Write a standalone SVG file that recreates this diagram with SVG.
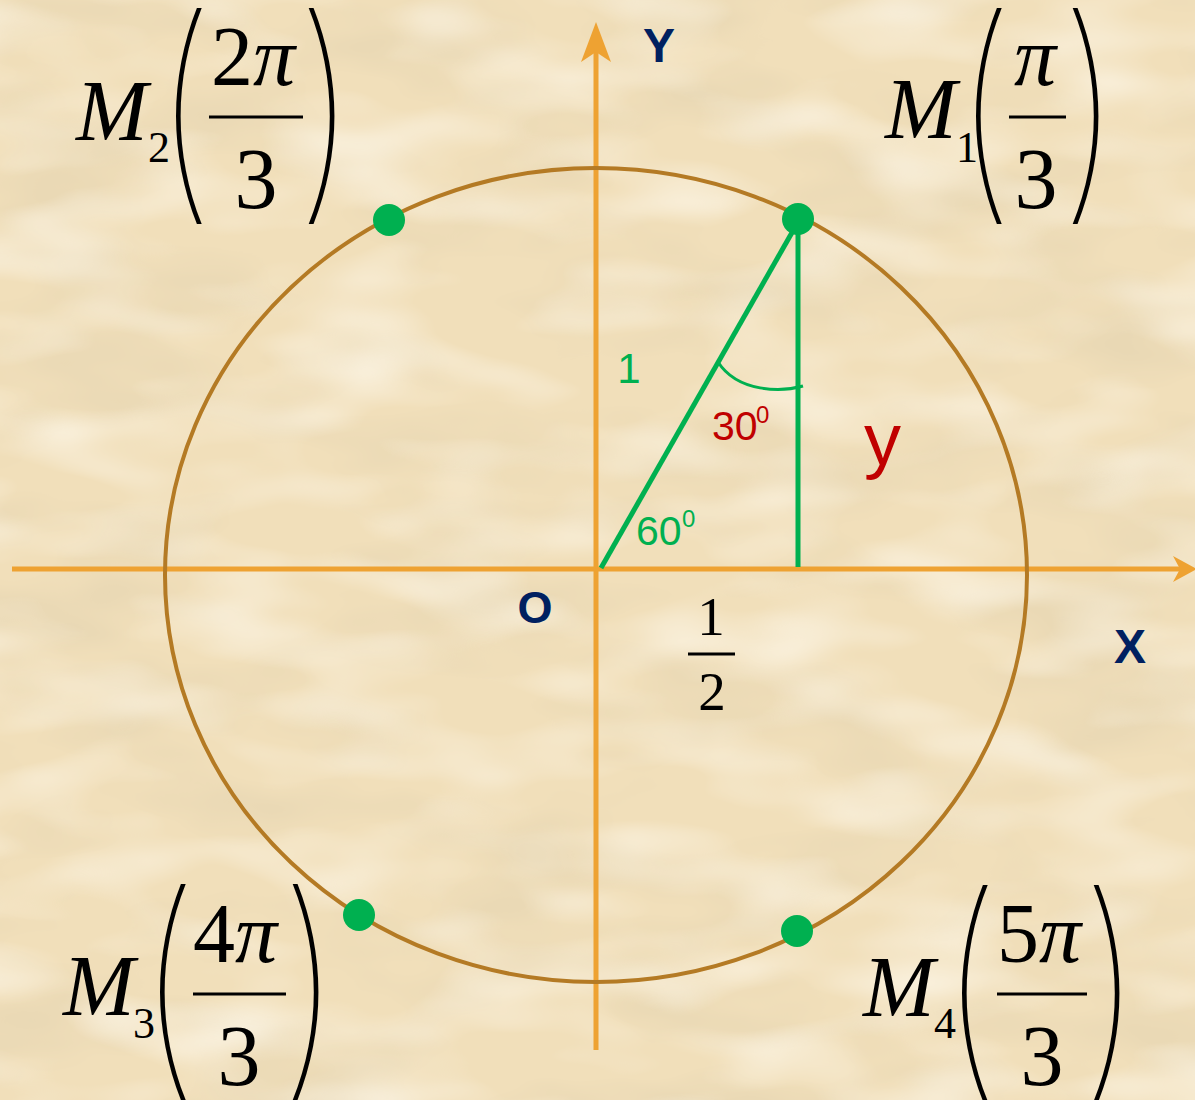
<svg xmlns="http://www.w3.org/2000/svg" width="1195" height="1100" viewBox="0 0 1195 1100">
<defs>
<filter id="paper" filterUnits="userSpaceOnUse" x="0" y="0" width="1195" height="1100">
<feTurbulence type="fractalNoise" baseFrequency="0.005 0.012" numOctaves="3" seed="7"/>
<feColorMatrix type="matrix" values="0 0 0 0 0.78  0 0 0 0 0.66  0 0 0 0 0.44  1.8 0 0 0 -0.80"/>
</filter>
<filter id="paper2" filterUnits="userSpaceOnUse" x="0" y="0" width="1195" height="1100">
<feTurbulence type="fractalNoise" baseFrequency="0.007 0.018" numOctaves="2" seed="21"/>
<feColorMatrix type="matrix" values="0 0 0 0 0.98  0 0 0 0 0.93  0 0 0 0 0.82  1.6 0 0 0 -0.7"/>
</filter>
<style>
.axis{stroke:#eea232;stroke-width:5;fill:none}
.arrow{fill:#eea232}
.circ{stroke:#b47a24;stroke-width:4;fill:none}
.grn{stroke:#00b050;fill:none}
.dot{fill:#00b050}
.lbl{font-family:"Liberation Sans",Arial,sans-serif;font-weight:bold;fill:#002060}
.cal{font-family:"Liberation Sans",Arial,sans-serif}
.math{font-family:"Liberation Serif","Times New Roman",serif;fill:#000}
.it{font-style:italic}
.par{font-family:Inter,"DejaVu Sans",sans-serif;font-weight:100;fill:#000}
.bar{stroke:#000;stroke-width:3}
</style>
</defs>
<rect width="1195" height="1100" fill="#f1dfba"/>
<rect width="1195" height="1100" filter="url(#paper)"/>
<rect width="1195" height="1100" filter="url(#paper2)"/>

<g id="connectors">
<line class="axis" x1="12" y1="569" x2="1182" y2="569"/>
<polygon class="arrow" points="1197,569 1173,556 1180,569 1173,582"/>
<line class="axis" x1="596" y1="1050" x2="596" y2="45"/>
<polygon class="arrow" points="596,22 581,62 596,52 611,62"/>
</g>

<g id="circle">
<ellipse class="circ" cx="596" cy="575" rx="431" ry="407"/>
</g>

<g id="triangle">
<line class="grn" stroke-width="5" x1="601" y1="568" x2="798" y2="222"/>
<line class="grn" stroke-width="5" x1="798" y1="222" x2="798" y2="567"/>
<path class="grn" stroke-width="3" d="M718,362 C738,393 782,392 803,386"/>
</g>

<g id="labels">
<text class="lbl" x="659" y="62" font-size="48" text-anchor="middle">Y</text>
<text class="lbl" x="1130" y="663" font-size="48" text-anchor="middle">X</text>
<text class="lbl" x="535" y="623" font-size="45" text-anchor="middle">O</text>
<text class="cal" x="629" y="383" font-size="42" fill="#00b050" text-anchor="middle">1</text>
<text class="cal" x="712" y="440" font-size="41" fill="#c00000">30</text>
<text class="cal" x="756" y="423" font-size="24" fill="#c00000">0</text>
<text class="cal" x="636" y="545" font-size="41" fill="#00b050">60</text>
<text class="cal" x="682" y="527" font-size="24" fill="#00b050">0</text>
<text class="cal" x="864" y="465" font-size="74" fill="#c00000">y</text>
</g>

<g id="half">
<text class="math" x="711" y="635" font-size="55" text-anchor="middle">1</text>
<line class="bar" stroke-width="2.5" x1="688" y1="654" x2="735" y2="654"/>
<text class="math" x="712" y="710" font-size="55" text-anchor="middle">2</text>
</g>

<g id="M1">
<circle class="dot" cx="798" cy="219" r="16"/>
<text class="math it" x="885" y="138" font-size="86">M</text>
<text class="math" x="956" y="162" font-size="44">1</text>
<text class="par" transform="translate(953,192) scale(1.8,2.16)" font-size="110">(</text>
<text class="par" transform="translate(1059,192) scale(1.8,2.16)" font-size="110">)</text>
<text class="math it" x="1035" y="85" font-size="84" text-anchor="middle">π</text>
<line class="bar" x1="1009" y1="117" x2="1066" y2="117"/>
<text class="math" x="1036" y="208" font-size="86" text-anchor="middle">3</text>
</g>

<g id="M2">
<circle class="dot" cx="389" cy="220" r="16"/>
<text class="math it" x="76" y="140" font-size="86">M</text>
<text class="math" x="148" y="162" font-size="44">2</text>
<text class="par" transform="translate(153,192) scale(1.8,2.16)" font-size="110">(</text>
<text class="par" transform="translate(295,192) scale(1.8,2.16)" font-size="110">)</text>
<text class="math" x="253" y="85" font-size="84" text-anchor="middle">2<tspan class="it">π</tspan></text>
<line class="bar" x1="209" y1="117" x2="303" y2="117"/>
<text class="math" x="256" y="208" font-size="86" text-anchor="middle">3</text>
</g>

<g id="M3">
<circle class="dot" cx="359" cy="915" r="16"/>
<text class="math it" x="63" y="1015" font-size="86">M</text>
<text class="math" x="133" y="1038" font-size="44">3</text>
<text class="par" transform="translate(137,1068) scale(1.8,2.16)" font-size="110">(</text>
<text class="par" transform="translate(279,1068) scale(1.8,2.16)" font-size="110">)</text>
<text class="math" x="235" y="962" font-size="84" text-anchor="middle">4<tspan class="it">π</tspan></text>
<line class="bar" x1="193" y1="994" x2="286" y2="994"/>
<text class="math" x="239" y="1085" font-size="86" text-anchor="middle">3</text>
</g>

<g id="M4">
<circle class="dot" cx="797" cy="931" r="16"/>
<text class="math it" x="863" y="1016" font-size="86">M</text>
<text class="math" x="934" y="1038" font-size="44">4</text>
<text class="par" transform="translate(939,1069) scale(1.8,2.16)" font-size="110">(</text>
<text class="par" transform="translate(1080,1069) scale(1.8,2.16)" font-size="110">)</text>
<text class="math" x="1039" y="962" font-size="84" text-anchor="middle">5<tspan class="it">π</tspan></text>
<line class="bar" x1="997" y1="994" x2="1087" y2="994"/>
<text class="math" x="1042" y="1085" font-size="86" text-anchor="middle">3</text>
</g>
</svg>
